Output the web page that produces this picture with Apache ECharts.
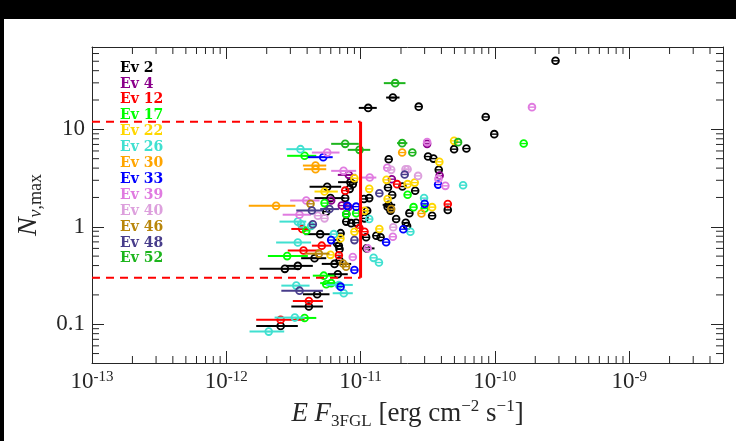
<!DOCTYPE html>
<html>
<head>
<meta charset="utf-8">
<title>N nu,max vs E F 3FGL</title>
<script src="https://cdn.jsdelivr.net/npm/echarts@6/dist/echarts.min.js"></script>
<style>
  html, body { margin: 0; padding: 0; background: #fff; }
  #main { position: absolute; left: 0; top: 0; width: 736px; height: 441px; background: #fff; }
  .band { position: absolute; background: #000; }
</style>
</head>
<body>
<div id="main"></div>
<div class="band" style="left:0;top:0;width:736px;height:19px;"></div>
<div class="band" style="left:0;top:0;width:4px;height:441px;"></div>
<script>
// axis ranges
var xMin = 1e-13, xMax = 5e-9;
var yMin = 0.04, yMax = 70;

// legend entries and their colours
var evNames = ['Ev 2', 'Ev 4', 'Ev 12', 'Ev 17', 'Ev 22', 'Ev 26', 'Ev 30',
               'Ev 33', 'Ev 39', 'Ev 40', 'Ev 46', 'Ev 48', 'Ev 52'];
var evColors = ['#000000', '#8b008b', '#ff0000', '#00ff00', '#ffd700', '#40e0d0', '#ffa500',
                '#0000ff', '#e07be0', '#dda0dd', '#b8860b', '#483d8b', '#1db51d'];

// points: [EF, Nmax, EF low, EF high]  (no low/high = bar hidden by the marker)
var ev2 = [
  [2.83e-10, 50.5], [1.74e-11, 21.2, 1.55e-11, 1.95e-11], [1.14e-11, 16.6, 9.7e-12, 1.32e-11],
  [2.71e-11, 17.1], [8.55e-11, 13.4], [9.9e-11, 8.93], [4.97e-11, 6.26], [6.14e-11, 6.35],
  [1.62e-11, 4.94], [3.18e-11, 5.26], [3.49e-11, 5.01], [3.82e-11, 3.84], [2.05e-11, 2.59],
  [2.55e-11, 2.34], [3.41e-11, 1.30], [2.31e-11, 1.38], [4.46e-11, 1.49], [2.17e-11, 1.10],
  [2.22e-11, 1.02], [1.84e-11, 1.20], [1.41e-11, 0.78], [1.10e-11, 0.78], [1.31e-11, 0.81],
  [1.11e-11, 0.60, 9.8e-12, 1.27e-11], [1.62e-11, 1.68, 1.46e-11, 1.81e-11], [1.60e-11, 2.53],
  [1.06e-11, 1.93], [1.16e-11, 1.97], [1.72e-11, 2.12], [1.59e-11, 1.61], [1.67e-11, 1.46],
  [1.12e-11, 1.46], [1.07e-11, 1.22], [8.4e-12, 2.87, 6.8e-12, 9.5e-12], [8.75e-12, 2.74],
  [8.3e-12, 2.45], [5.64e-12, 2.57, 4.17e-12, 7.17e-12], [5.97e-12, 1.97, 4.54e-12, 7.59e-12],
  [7.68e-12, 1.97], [7.82e-12, 1.13], [8.51e-12, 1.09], [9.27e-12, 1.10],
  [5.0e-12, 0.84, 3.83e-12, 6.04e-12], [6.89e-12, 0.64], [6.97e-12, 0.59], [6.66e-12, 0.68],
  [4.54e-12, 0.476, 3.61e-12, 5.55e-12], [6.4e-12, 0.416, 5.14e-12, 8.51e-12], [6.97e-12, 0.45],
  [3.41e-12, 0.397, 2.80e-12, 4.41e-12], [2.73e-12, 0.37, 1.77e-12, 3.51e-12],
  [6.77e-12, 0.326, 5.70e-12, 8.03e-12], [4.75e-12, 0.203, 3.72e-12, 5.87e-12],
  [4.12e-12, 0.152, 3.05e-12, 5.24e-12], [2.54e-12, 0.096, 1.67e-12, 3.41e-12],
  [5.55e-12, 1.43], [7.1e-12, 0.86], [7.82e-12, 1.35]
];
var ev4 = [
  [3.13e-11, 7.1], [3.88e-11, 3.36], [1.71e-11, 3.08], [8.17e-12, 3.41, 6.77e-12, 9.27e-12],
  [7.25e-12, 1.65], [8.1e-12, 1.60], [6.04e-12, 1.86]
];
var ev12 = [
  [1.87e-11, 2.74], [4.46e-11, 1.71], [7.68e-12, 2.35], [3.68e-12, 0.95, 3.05e-12, 4.41e-12],
  [5.14e-12, 0.64, 4.34e-12, 6.04e-12], [3.76e-12, 0.57, 2.87e-12, 4.95e-12], [6.89e-12, 0.51],
  [4.12e-12, 0.173, 3.13e-12, 5.24e-12], [2.54e-12, 0.111, 1.67e-12, 3.83e-12],
  [9.8e-12, 0.97], [1.07e-11, 0.89]
];
var ev17 = [
  [1.64e-10, 7.15], [2.24e-11, 2.13], [2.48e-11, 1.59], [3.0e-11, 1.54],
  [3.83e-12, 5.35, 2.84e-12, 4.68e-12], [2.84e-12, 0.50, 2.04e-12, 4.05e-12],
  [5.32e-12, 0.315, 4.41e-12, 6.4e-12], [6.04e-12, 0.264, 5.0e-12, 7.0e-12], [5.55e-12, 0.257],
  [3.83e-12, 0.116, 3.24e-12, 4.68e-12], [9.27e-12, 1.38], [7.82e-12, 1.35], [5.39e-12, 1.75],
  [3.94e-12, 0.91]
];
var ev22 = [
  [4.97e-11, 7.62], [3.86e-11, 4.64], [1.56e-11, 3.03], [2.24e-11, 2.74], [2.53e-11, 2.84],
  [3.41e-11, 1.59], [1.38e-11, 0.95], [1.16e-11, 2.45], [1.59e-11, 1.93], [1.07e-11, 1.46],
  [5.39e-12, 2.30, 4.54e-12, 6.77e-12], [5.97e-12, 0.515], [7.08e-12, 0.76], [9.0e-12, 0.89],
  [9.0e-12, 3.15]
];
var ev26 = [
  [5.8e-11, 2.67], [2.97e-11, 1.97], [2.35e-11, 0.89], [1.25e-11, 0.48], [1.37e-11, 0.43],
  [1.16e-11, 1.20], [3.57e-12, 6.26, 2.80e-12, 4.34e-12], [3.41e-12, 1.13, 2.49e-12, 3.94e-12],
  [4.28e-12, 1.02], [3.61e-12, 1.06], [6.32e-12, 0.84], [3.41e-12, 0.69, 2.35e-12, 4.28e-12],
  [6.89e-12, 0.253, 5.55e-12, 8.75e-12], [3.32e-12, 0.249, 2.57e-12, 4.17e-12],
  [7.5e-12, 0.208, 6.2e-12, 8.75e-12], [3.24e-12, 0.117, 2.29e-12, 3.83e-12],
  [2.07e-12, 0.084, 1.49e-12, 2.70e-12]
];
var ev30 = [
  [2.04e-11, 5.78], [2.84e-11, 1.37], [4.62e-12, 4.25, 3.72e-12, 5.55e-12],
  [4.62e-12, 3.9, 3.78e-12, 5.55e-12], [2.35e-12, 1.64, 1.47e-12, 3.27e-12]
];
var ev33 = [
  [3.78e-11, 2.71], [3.0e-11, 1.72], [2.08e-11, 0.945], [1.55e-11, 0.695],
  [5.27e-12, 5.18, 4.05e-12, 6.2e-12], [7.95e-12, 1.64], [6.04e-12, 0.73], [9.0e-12, 0.36],
  [9.27e-12, 1.61], [7.1e-12, 0.243]
];
var ev39 = [
  [1.89e-10, 16.9], [3.13e-11, 7.4], [1.58e-11, 4.03], [4.28e-11, 2.63], [1.74e-11, 0.79],
  [1.17e-11, 3.2, 1.01e-11, 1.31e-11], [5.64e-12, 5.78, 4.34e-12, 6.97e-12],
  [7.47e-12, 3.75, 6.04e-12, 9.27e-12], [3.94e-12, 1.86, 2.99e-12, 4.95e-12],
  [3.51e-12, 1.33, 2.63e-12, 4.28e-12], [8.75e-12, 0.49], [1.13e-11, 0.60], [3.8e-11, 3.1]
];
var ev40 = [
  [2.16e-11, 3.9], [2.24e-11, 3.9], [1.69e-11, 3.84], [2.68e-11, 3.33], [5.39e-12, 1.22],
  [4.81e-12, 1.30], [1.75e-11, 0.99]
];
var ev46 = [
  [4.89e-12, 0.53, 3.83e-12, 5.87e-12], [4.24e-12, 1.72], [1.69e-11, 1.52], [7.4e-12, 0.42],
  [7.8e-12, 0.39]
];
var ev48 = [
  [2.13e-11, 3.44], [1.38e-11, 2.21], [4.34e-12, 1.47, 3.32e-12, 5.24e-12],
  [5.87e-12, 1.52, 5.0e-12, 6.9e-12], [4.41e-12, 1.06], [3.51e-12, 0.221, 2.57e-12, 5.24e-12],
  [9.0e-12, 0.73]
];
var ev52 = [
  [1.81e-11, 29.8, 1.49e-11, 2.16e-11], [7.68e-12, 7.1, 6.04e-12, 9.7e-12],
  [9.82e-12, 6.16, 8.03e-12, 1.18e-11], [2.04e-11, 7.22, 1.87e-11, 2.23e-11],
  [2.43e-11, 5.78], [5.32e-11, 7.39]
];
var evData = [ev2, ev4, ev12, ev17, ev22, ev26, ev30, ev33, ev39, ev40, ev46, ev48, ev52];

// selection box
var boxTop = 12, boxBottom = 0.3, boxX = 1e-11;

// minor tick values
var mantissas = [2, 3, 4, 5, 6, 7, 8, 9];
var xDecades = [1e-13, 1e-12, 1e-11, 1e-10, 1e-9];
var yDecades = [0.01, 0.1, 1, 10];
var xMinorTicks = [], yMinorTicks = [];
xDecades.forEach(function (d) { mantissas.forEach(function (m) { var v = d * m; if (v > xMin && v < xMax) xMinorTicks.push(v); }); });
yDecades.forEach(function (d) { mantissas.forEach(function (m) { var v = d * m; if (v > yMin && v < yMax) yMinorTicks.push(v); }); });

var serif = 'Liberation Serif';
var ink = '#262626';

function isPow10(v) {
  var e = Math.log10(v);
  return Math.abs(e - Math.round(e)) < 1e-6;
}

function pointRender(color) {
  return function (params, api) {
    var y = api.value(1);
    var p = api.coord([api.value(0), y]);
    var lo = api.value(2), hi = api.value(3);
    var kids = [];
    if (isFinite(lo) && isFinite(hi) && lo > 0) {
      var a = api.coord([lo, y]), b = api.coord([hi, y]);
      kids.push({ type: 'line', shape: { x1: a[0], y1: p[1], x2: b[0], y2: p[1] },
                  style: { stroke: color, lineWidth: 2 } });
    }
    kids.push({ type: 'line', shape: { x1: p[0] - 3.5, y1: p[1], x2: p[0] + 3.5, y2: p[1] },
                style: { stroke: color, lineWidth: 1.4 } });
    kids.push({ type: 'circle', shape: { cx: p[0], cy: p[1], r: 3.4 },
                style: { fill: 'none', stroke: color, lineWidth: 1.8 } });
    return { type: 'group', children: kids };
  };
}

var series = evData.map(function (d, i) {
  return {
    name: evNames[i],
    type: 'custom',
    color: evColors[i],
    dimensions: ['x', 'y', 'lo', 'hi'],
    encode: { x: 0, y: 1 },
    renderItem: pointRender(evColors[i]),
    data: d,
    z: 3
  };
});

// red box
series.push({
  type: 'line', silent: true, symbol: 'none', z: 4,
  data: [[xMin, boxTop], [boxX, boxTop]],
  lineStyle: { color: '#ff0000', width: 2, type: [8, 6] }
});
series.push({
  type: 'line', silent: true, symbol: 'none', z: 4,
  data: [[xMin, boxBottom], [boxX, boxBottom]],
  lineStyle: { color: '#ff0000', width: 2, type: [8, 6] }
});
series.push({
  type: 'line', silent: true, symbol: 'none', z: 4,
  data: [[boxX, boxBottom], [boxX, boxTop]],
  lineStyle: { color: '#ff0000', width: 3 }
});

// minor ticks on all four sides
series.push({
  type: 'custom', silent: true, z: 1,
  data: xMinorTicks.map(function (v) { return [v, yMin]; }),
  renderItem: function (params, api) {
    var b = api.coord([api.value(0), yMin]), t = api.coord([api.value(0), yMax]);
    return { type: 'group', children: [
      { type: 'line', shape: { x1: b[0], y1: b[1], x2: b[0], y2: b[1] - 7 }, style: { stroke: ink, lineWidth: 1 } },
      { type: 'line', shape: { x1: t[0], y1: t[1], x2: t[0], y2: t[1] + 7 }, style: { stroke: ink, lineWidth: 1 } }
    ] };
  }
});
series.push({
  type: 'custom', silent: true, z: 1,
  data: yMinorTicks.map(function (v) { return [xMin, v]; }),
  renderItem: function (params, api) {
    var l = api.coord([xMin, api.value(1)]), r = api.coord([xMax, api.value(1)]);
    return { type: 'group', children: [
      { type: 'line', shape: { x1: l[0], y1: l[1], x2: l[0] + 7, y2: l[1] }, style: { stroke: ink, lineWidth: 1 } },
      { type: 'line', shape: { x1: r[0], y1: r[1], x2: r[0] - 7, y2: r[1] }, style: { stroke: ink, lineWidth: 1 } }
    ] };
  }
});

var frameLine = { show: true, onZero: false, lineStyle: { color: ink, width: 1 } };
var majorTick = { show: true, inside: true, length: 12, lineStyle: { color: ink, width: 1 } };

var chart = echarts.init(document.getElementById('main'), null, { renderer: 'canvas' });
chart.setOption({
  animation: false,
  backgroundColor: '#fff',
  grid: { left: 92, top: 47, width: 631, height: 316, containLabel: false },
  legend: {
    orient: 'vertical', left: 110, top: 56,
    itemWidth: 0, itemHeight: 14, itemGap: 1.9,
    selectedMode: false,
    itemStyle: { opacity: 0 },
    textStyle: { fontFamily: 'DejaVu Serif', fontWeight: 'bold', fontSize: 14, lineHeight: 14 },
    data: evNames.map(function (n, i) { return { name: n, textStyle: { color: evColors[i] } }; })
  },
  xAxis: [{
    type: 'log', logBase: 10, min: xMin, max: xMax, position: 'bottom',
    axisLine: frameLine, axisTick: majorTick, splitLine: { show: false },
    axisLabel: {
      margin: 7, showMinLabel: true, showMaxLabel: false,
      formatter: function (v) {
        if (!isPow10(v)) return '';
        return '{b|10}{e|' + Math.round(Math.log10(v)) + '}';
      },
      rich: {
        b: { fontFamily: serif, fontSize: 23, color: ink, lineHeight: 24, verticalAlign: 'middle' },
        e: { fontFamily: serif, fontSize: 15, color: ink, lineHeight: 13, verticalAlign: 'top' }
      }
    },
    name: '{i|E F}{s|3FGL}{r| [erg cm}{p|\u22122}{r| s}{p|\u22121}{r|]}',
    nameLocation: 'middle', nameGap: 31,
    nameTextStyle: {
      rich: {
        i: { fontFamily: serif, fontStyle: 'italic', fontSize: 27, color: ink, lineHeight: 32 },
        s: { fontFamily: serif, fontSize: 17, color: ink, lineHeight: 22, verticalAlign: 'bottom' },
        r: { fontFamily: serif, fontSize: 27, color: ink, lineHeight: 32 },
        p: { fontFamily: serif, fontSize: 17, color: ink, lineHeight: 15, verticalAlign: 'top' }
      }
    }
  }, {
    type: 'log', logBase: 10, min: xMin, max: xMax, position: 'top',
    axisLine: frameLine, axisTick: majorTick, splitLine: { show: false },
    axisLabel: { show: false }
  }],
  yAxis: [{
    type: 'log', logBase: 10, min: yMin, max: yMax, position: 'left',
    axisLine: frameLine, axisTick: majorTick, splitLine: { show: false },
    axisLabel: {
      margin: 7, showMinLabel: false, showMaxLabel: false,
      fontFamily: serif, fontSize: 23, color: ink,
      formatter: function (v) {
        if (!isPow10(v)) return '';
        var e = Math.round(Math.log10(v));
        return e >= 0 ? String(Math.pow(10, e)) : '0.' + '0'.repeat(-e - 1) + '1';
      }
    },
    name: '{n|N}{v|\u03bd}{s|,max}',
    nameLocation: 'middle', nameGap: 47,
    nameTextStyle: {
      rich: {
        n: { fontFamily: serif, fontStyle: 'italic', fontSize: 28, color: ink, lineHeight: 32 },
        v: { fontFamily: serif, fontStyle: 'italic', fontSize: 18, color: ink, lineHeight: 22, verticalAlign: 'bottom' },
        s: { fontFamily: serif, fontSize: 18, color: ink, lineHeight: 22, verticalAlign: 'bottom' }
      }
    }
  }, {
    type: 'log', logBase: 10, min: yMin, max: yMax, position: 'right',
    axisLine: frameLine, axisTick: majorTick, splitLine: { show: false },
    axisLabel: { show: false }
  }],
  series: series
});
</script>
</body>
</html>
